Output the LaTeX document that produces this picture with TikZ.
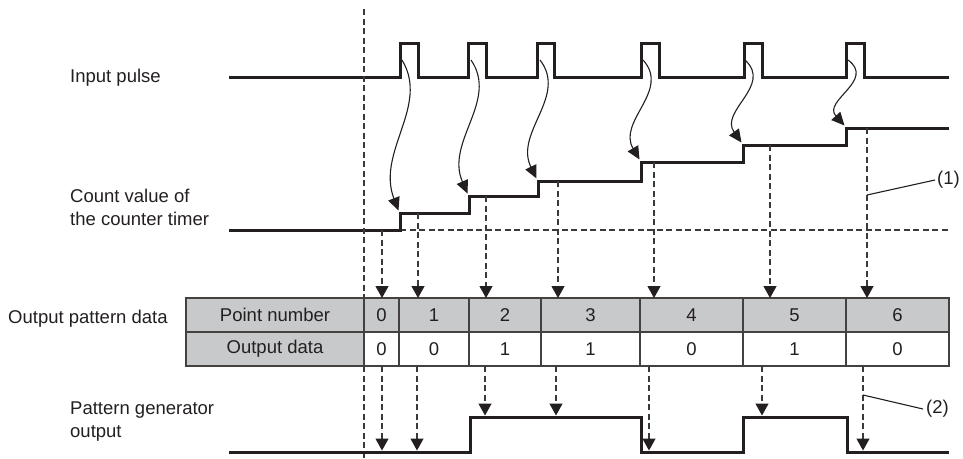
\documentclass[tikz,border=0pt]{standalone}
\usepackage{fontspec}
\setmainfont{Liberation Sans}
\usetikzlibrary{arrows.meta}
\definecolor{ink}{HTML}{231F20}
\definecolor{cellgray}{HTML}{C8C9CB}
\definecolor{dashgray}{HTML}{3A3A3A}
\begin{document}
\begin{tikzpicture}[x=1pt,y=-1pt,
  wave/.style={line width=3pt, draw=ink, line join=miter},
  dashln/.style={line width=1.3pt, draw=dashgray, dash pattern=on 6pt off 3.5pt},
  darrow/.style={dashln, -{Triangle[length=12pt,width=13pt,color=ink]}},
  warrow/.style={line width=1.1pt, draw=ink, -{Triangle[length=13pt,width=12pt]}},
  lbl/.style={font=\fontsize{18.5}{22}\selectfont, inner sep=0pt, text=ink},
  gridln/.style={draw=ink!85, line width=1.4pt},
  leader/.style={line width=1.1pt, draw=ink}]
\useasboundingbox (0,0) rectangle (963,458);

% ---- left labels
\node[lbl, anchor=base west] (tIn) at (70,82) {Input pulse};
\node[lbl, anchor=base west] (tCnt1) at (70,202) {Count value of};
\node[lbl, anchor=base west] (tCnt2) at (70,225) {the counter timer};
\node[lbl, anchor=base west] (tOpd) at (8,323) {Output pattern data};
\node[lbl, anchor=base west] (tPg1) at (70,414) {Pattern generator};
\node[lbl, anchor=base west] (tPg2) at (70,437) {output};

% ---- input pulse
\draw[wave] (229,77) -- (400,77) -- (400,43) -- (418,43) -- (418,77)
  -- (468,77) -- (468,43) -- (486,43) -- (486,77)
  -- (537,77) -- (537,43) -- (554,43) -- (554,77)
  -- (641,77) -- (641,43) -- (659,43) -- (659,77)
  -- (744,77) -- (744,43) -- (762,43) -- (762,77)
  -- (846,77) -- (846,43) -- (864,43) -- (864,77) -- (949,77);

% ---- count value staircase
\draw[dashln] (400,230) -- (949,230);
\draw[wave] (229,230) -- (400,230) -- (400,213) -- (469,213) -- (469,196)
  -- (538,196) -- (538,181) -- (641,181) -- (641,162) -- (743,162)
  -- (743,145) -- (846,145) -- (846,128) -- (949,128);

% ---- wavy arrows
\foreach \xr/\L [count=\i] in {400/213, 469/196, 538/181, 641/162, 743/145, 846/128}{
  \pgfmathsetmacro\sp{\L-60}
  \coordinate (ws\i) at (\xr+2,60);
  \coordinate (we\i) at (\xr-1.5,\L-2.5);
  \draw[warrow] (ws\i) .. controls ({\xr+30},{60+0.3*\sp}) and ({\xr-24},{60+0.6*\sp}) .. (we\i);
}

% ---- long dashed reference line
\coordinate (r0) at (364,9);
\coordinate (r1) at (364,298);
\coordinate (r2) at (364,366);
\coordinate (r3) at (364,458);
\draw[dashln] (r0) -- (r1);
\draw[dashln] (r2) -- (r3);

% ---- table
\fill[cellgray] (186,298) rectangle (949,332);
\fill[cellgray] (186,332) rectangle (364,366);
\fill[white] (364,332) rectangle (949,366);
\draw[gridln] (186,298) rectangle (949,366);
\draw[gridln] (186,332) -- (949,332);
\foreach \c in {364,399,469,541,640,743,846}{
  \draw[gridln] (\c,298) -- (\c,366);
}
\node[lbl] (hPN) at (275,315) {Point number};
\node[lbl] (hOD) at (275,349) {Output data};
\foreach \l/\r/\n/\d [count=\i] in {364/399/0/0, 399/469/1/0, 469/541/2/1, 541/640/3/1, 640/743/4/0, 743/846/5/1, 846/949/6/0}{
  \node[lbl] (pn\i) at ({(\l+\r)/2},315) {\n};
  \node[lbl] (od\i) at ({(\l+\r)/2},349) {\d};
}

% ---- dashed arrows from counter to table
\foreach \x/\y [count=\i] in {382/230, 418/213, 486/196, 558/181, 654/162, 770/145, 867/128}{
  \coordinate (ca\i) at (\x,\y);
  \coordinate (cb\i) at (\x,298);
  \draw[darrow] (ca\i) -- (cb\i);
}

% ---- output waveform
\draw[wave] (229,452) -- (470,452) -- (470,417) -- (641,417) -- (641,452)
  -- (743,452) -- (743,417) -- (847,417) -- (847,452) -- (949,452);

% ---- dashed arrows from table to output
\foreach \x/\y [count=\i] in {382/452, 417/452, 485/417, 556/417, 649/452, 762/417, 863/452}{
  \coordinate (oa\i) at (\x,366);
  \coordinate (ob\i) at (\x,\y-1.5);
  \draw[darrow] (oa\i) -- (ob\i);
}

% ---- callouts
\node[lbl, anchor=west] (c1) at (937,180) {(1)};
\coordinate (c1a) at (867,195);
\draw[leader] (c1a) -- ([xshift=-2pt]c1.west);
\node[lbl, anchor=west] (c2) at (926,409) {(2)};
\coordinate (c2a) at (863,395);
\draw[leader] (c2a) -- ([xshift=-3pt]c2.west);
\end{tikzpicture}
\end{document}
